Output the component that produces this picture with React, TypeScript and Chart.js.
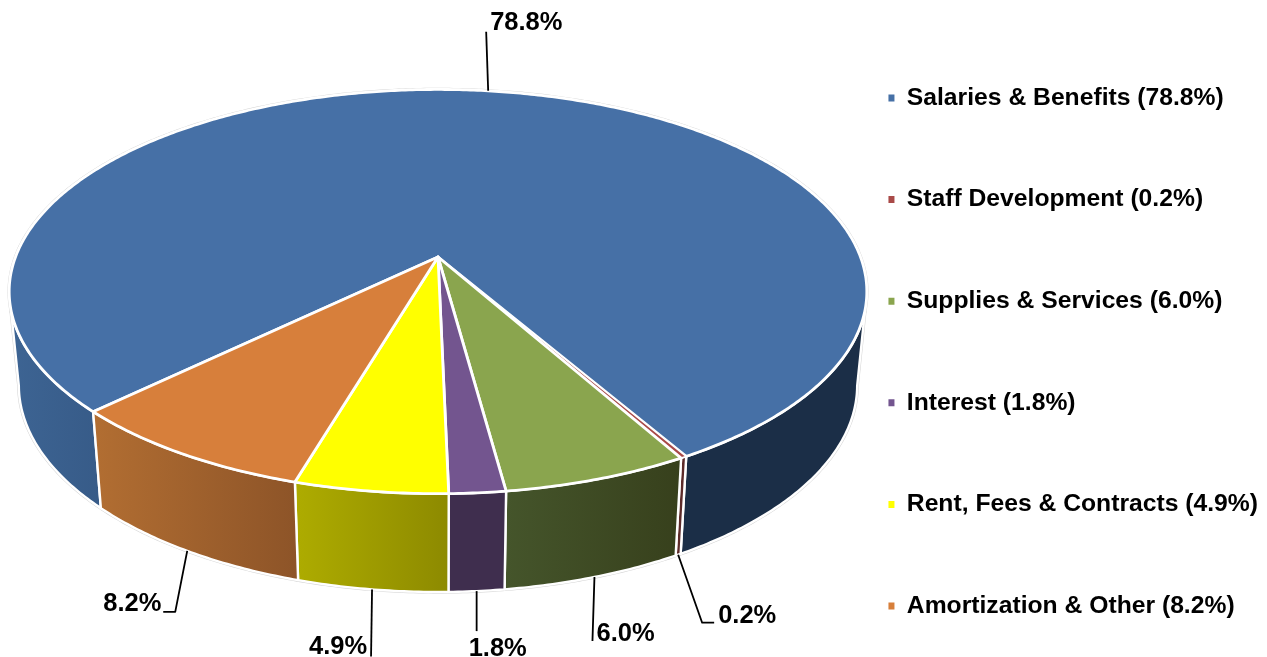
import React, { useEffect, useRef } from "react";
import { Chart, registerables } from "chart.js";

Chart.register(...registerables);

// ---- data ----
const categories = [
  "Salaries & Benefits",
  "Staff Development",
  "Supplies & Services",
  "Interest",
  "Rent, Fees & Contracts",
  "Amortization & Other",
];
const shares = [78.8, 0.2, 6.0, 1.8, 4.9, 8.2];

// ---- styles ----
const topColors = ["#4670A6", "#A94A48", "#8AA54E", "#73558F", "#FFFF00", "#D77F3B"];
const wallFrom = ["#3D6493", "#5C2A29", "#45552B", "#3F2E4E", "#AEAC00", "#B26E32"];
const wallTo = ["#375B88", "#5C2A29", "#37401C", "#3F2E4E", "#8D8A00", "#8D5428"];
const salariesRightWall = "#1B2E47";
const haloColor = "#D4D4D4";
const FONT = '"Liberation Sans", Arial, sans-serif';

// ---- layout of the perspective projection ----
const P = { cx: 438, k: 0.171, topY: 257, topA: 196.2, topB: 422.5, botY: 350, botA: 200.6, botB: 413 };
const RIM_MIN = (15 * Math.PI) / 180;
const RIM_MAX = (165 * Math.PI) / 180;
const BOT_MIN = (10 * Math.PI) / 180;
const BOT_MAX = (170 * Math.PI) / 180;

// leader layout, in pixels relative to the anchor on the pie
const leaders = [
  { rim: "top", path: [[-2, -59]], text: [2, -68] },
  { rim: "bottom", path: [[24, 68], [36, 68]], text: [40, 61] },
  { rim: "bottom", path: [[-2, 64]], text: [2, 57] },
  { rim: "bottom", path: [[0, 40]], text: [-8, 58] },
  { rim: "bottom", path: [[-1, 67]], text: [-63, 58] },
  { rim: "bottom", path: [[-12, 61], [-24, 61]], text: [-84, 53] },
];

function topPt(a: number): [number, number] {
  const u = Math.cos(a), v = Math.sin(a), w = 1 - P.k * v;
  return [P.cx + (P.topB * u) / w, P.topY + (P.topA * v) / w];
}
function botPt(a: number): [number, number] {
  const u = Math.cos(a), v = Math.sin(a), w = 1 - P.k * v;
  return [P.cx + (P.botB * u) / w, P.botY + (P.botA * v) / w];
}

function tracePath(ctx: CanvasRenderingContext2D, pts: [number, number][]) {
  ctx.beginPath();
  pts.forEach((p, i) => (i ? ctx.lineTo(p[0], p[1]) : ctx.moveTo(p[0], p[1])));
  ctx.closePath();
}
function sample(a0: number, a1: number, fn: (a: number) => [number, number]) {
  const n = Math.max(2, Math.ceil(Math.abs(a1 - a0) / 0.01));
  const out: [number, number][] = [];
  for (let i = 0; i <= n; i++) out.push(fn(a0 + ((a1 - a0) * i) / n));
  return out;
}

const perspectivePie = {
  id: "perspectivePie",
  beforeDatasetDraw(chart: any, args: any) {
    const ctx: CanvasRenderingContext2D = chart.ctx;
    const arcs = args.meta.data;
    ctx.save();
    ctx.lineJoin = "round";

    // faint outer outline of the whole disc
    ctx.strokeStyle = haloColor;
    ctx.lineWidth = 3.4;
    tracePath(ctx, sample(0, Math.PI * 2, topPt));
    ctx.stroke();
    tracePath(ctx, [...sample(RIM_MIN, RIM_MAX, topPt), ...sample(BOT_MAX, BOT_MIN, botPt)]);
    ctx.stroke();

    // outer walls
    arcs.forEach((arc: any, i: number) => {
      [0, Math.PI * 2].forEach((turn) => {
        const s = arc.startAngle, e = arc.endAngle;
        const b0 = Math.max(s, BOT_MIN + turn), b1 = Math.min(e, BOT_MAX + turn);
        if (b0 >= b1) return;
        const r0 = Math.max(s, RIM_MIN + turn), r1 = Math.min(e, RIM_MAX + turn);
        const pts = [...sample(r0, r1, topPt), ...sample(b1, b0, botPt)];
        const xs = pts.map((p) => p[0]);
        const g = ctx.createLinearGradient(Math.min(...xs), 0, Math.max(...xs), 0);
        const rightSalaries = i === 0 && Math.cos((b0 + b1) / 2) > 0;
        g.addColorStop(0, rightSalaries ? salariesRightWall : wallFrom[i]);
        g.addColorStop(1, rightSalaries ? salariesRightWall : wallTo[i]);
        tracePath(ctx, pts);
        ctx.fillStyle = g;
        ctx.fill();
        ctx.strokeStyle = "#FFFFFF";
        ctx.lineWidth = 2.4;
        ctx.stroke();
      });
    });

    // top face
    arcs.forEach((arc: any, i: number) => {
      const pts: [number, number][] = [[P.cx, P.topY], ...sample(arc.startAngle, arc.endAngle, topPt)];
      tracePath(ctx, pts);
      ctx.fillStyle = topColors[i];
      ctx.fill();
      ctx.strokeStyle = "#FFFFFF";
      ctx.lineWidth = i === 1 ? 1.6 : 2.8;
      ctx.stroke();
    });

    // leader lines and value labels
    arcs.forEach((arc: any, i: number) => {
      const mid = (arc.startAngle + arc.endAngle) / 2;
      const l = leaders[i];
      const [ax, ay] = l.rim === "top" ? topPt(mid) : botPt(mid);
      ctx.beginPath();
      ctx.moveTo(ax, ay);
      l.path.forEach((p) => ctx.lineTo(ax + p[0], ay + p[1]));
      ctx.strokeStyle = "#000000";
      ctx.lineWidth = 1.8;
      ctx.stroke();
      ctx.fillStyle = "#000000";
      ctx.font = `bold 25.5px ${FONT}`;
      ctx.textAlign = "left";
      ctx.textBaseline = "middle";
      ctx.fillText(`${shares[i].toFixed(1)}%`, ax + l.text[0], ay + l.text[1]);
    });
    ctx.restore();
    return false;
  },
};

export default function App() {
  const ref = useRef<HTMLCanvasElement>(null);
  useEffect(() => {
    const chart = new Chart(ref.current!, {
      type: "pie",
      data: {
        labels: categories.map((c, i) => `${c} (${shares[i].toFixed(1)}%)`),
        datasets: [{ data: shares, backgroundColor: topColors, borderWidth: 0 }],
      },
      options: {
        responsive: false,
        animation: false,
        rotation: 226,
        layout: { padding: { right: -1, top: 0, bottom: -47 } },
        plugins: {
          tooltip: { enabled: false },
          legend: {
            position: "right",
            labels: {
              boxWidth: 6,
              boxHeight: 7,
              padding: 76.9,
              color: "#000000",
              font: { family: FONT, size: 24.7, weight: "bold" },
            },
          },
        },
      },
      plugins: [perspectivePie],
    } as any);
    return () => chart.destroy();
  }, []);
  return (
    <div style={{ position: "fixed", left: 0, top: 0, width: 1267, height: 657, background: "#fff" }}>
      <canvas ref={ref} width={1267} height={657} style={{ display: "block" }} />
    </div>
  );
}
